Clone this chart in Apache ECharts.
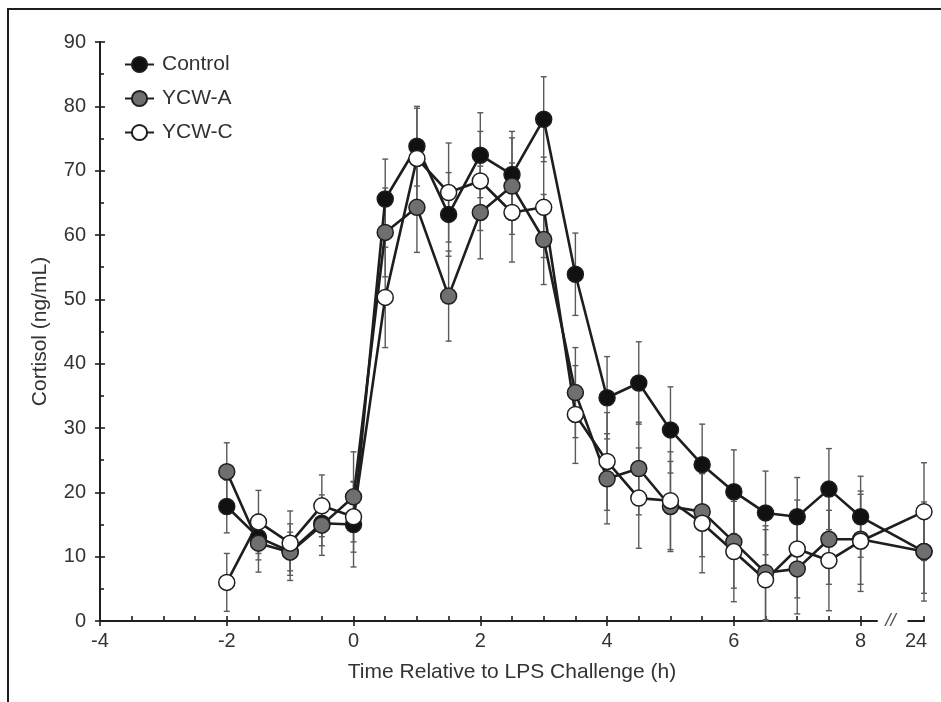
<!DOCTYPE html>
<html>
<head>
<meta charset="utf-8">
<script src="https://cdn.jsdelivr.net/npm/echarts@6/dist/echarts.min.js"></script>
<style>
  html, body { margin: 0; padding: 0; background: #fff; }
  #chart { width: 941px; height: 702px; }
</style>
</head>
<body>
<div id="chart"></div>
<script>
// hours relative to LPS; 24 h sits after an axis break
const times = [-2, -1.5, -1, -0.5, 0, 0.5, 1, 1.5, 2, 2.5, 3, 3.5, 4, 4.5, 5, 5.5, 6, 6.5, 7, 7.5, 8, 24]

const controlMean = [17.8, 13.0, 10.8, 15.2, 15.0, 65.6, 73.8, 63.2, 72.4, 69.4, 78.0, 53.9, 34.7, 37.0, 29.7, 24.3, 20.1, 16.8, 16.2, 20.5, 16.2, 10.8]
const controlSem = [4.1, 3.5, 3.0, 3.5, 6.6, 6.2, 6.2, 6.5, 6.6, 6.7, 6.6, 6.4, 6.4, 6.4, 6.7, 6.3, 6.5, 6.5, 6.1, 6.3, 6.3, 6.5]

const ycwAMean = [23.2, 12.1, 10.7, 14.9, 19.3, 60.4, 64.3, 50.5, 63.5, 67.6, 59.3, 35.5, 22.1, 23.7, 17.8, 17.0, 12.3, 7.5, 8.1, 12.7, 12.7, 10.8]
const ycwASem = [4.5, 4.5, 4.4, 4.7, 7.0, 6.9, 7.0, 7.0, 7.2, 7.5, 7.0, 7.0, 7.0, 7.2, 7.0, 7.0, 7.2, 7.3, 7.0, 7.0, 7.0, 7.7]

const ycwCMean = [6.0, 15.4, 12.1, 17.9, 16.2, 50.3, 71.9, 66.6, 68.4, 63.5, 64.3, 32.1, 24.8, 19.1, 18.7, 15.2, 10.8, 6.4, 11.2, 9.4, 12.4, 17.0]
const ycwCSem = [4.5, 4.9, 5.0, 4.8, 5.5, 7.8, 7.8, 7.7, 7.7, 7.7, 7.8, 7.6, 7.6, 7.8, 7.6, 7.7, 7.8, 7.8, 7.6, 7.8, 7.8, 7.6]

const majorTicks = [-4, -2, 0, 2, 4, 6, 8]
const minorTicks = [-4, -3.5, -3, -2.5, -2, -1.5, -1, -0.5, 0, 0.5, 1, 1.5, 2, 2.5, 3, 3.5, 4, 4.5, 5, 5.5, 6, 6.5, 7, 7.5, 8, 24]
const xLabels = [-4, -2, 0, 2, 4, 6, 8, 24]

// the broken axis puts 24 h one unit after 8 h
const xPos = (t) => (t > 8 ? 9 : t)

const ink = '#1e1e1e'
const textColor = '#333'
const font = 'Liberation Sans, Arial, sans-serif'

const lineSeries = (name, means, fill) => ({
    type: 'line',
    name: name,
    data: times.map((t, i) => [xPos(t), means[i]]),
    symbol: 'circle',
    symbolSize: 16,
    z: 3,
    lineStyle: { color: ink, width: 2.6 },
    itemStyle: { color: fill, borderColor: ink, borderWidth: 1.5 },
    emphasis: { disabled: true },
    animation: false
})

const errorSeries = (name, means, sems) => ({
    type: 'custom',
    name: name + ' SEM',
    data: times.map((t, i) => [xPos(t), Math.max(0, means[i] - sems[i]), means[i] + sems[i]]),
    z: 1,
    silent: true,
    animation: false,
    renderItem: function (params, api) {
        const hi = api.coord([api.value(0), api.value(2)])
        const lo = api.coord([api.value(0), api.value(1)])
        const cap = 3
        const style = { stroke: '#5a5a5a', lineWidth: 1.4 }
        return {
            type: 'group',
            children: [
                { type: 'line', shape: { x1: hi[0], y1: hi[1], x2: lo[0], y2: lo[1] }, style: style },
                { type: 'line', shape: { x1: hi[0] - cap, y1: hi[1], x2: hi[0] + cap, y2: hi[1] }, style: style },
                { type: 'line', shape: { x1: lo[0] - cap, y1: lo[1], x2: lo[0] + cap, y2: lo[1] }, style: style }
            ]
        }
    }
})

const chart = echarts.init(document.getElementById('chart'))

const xBase = {
    type: 'value',
    min: -4,
    max: 9,
    position: 'bottom',
    splitLine: { show: false }
}

const option = {
    backgroundColor: '#fff',
    animation: false,
    grid: { left: 100, right: 17, top: 42, bottom: 81, containLabel: false },
    legend: {
        orient: 'vertical',
        left: 119,
        top: 49,
        itemWidth: 29,
        itemHeight: 19,
        itemGap: 13,
        data: ['Control', 'YCW-A', 'YCW-C'],
        textStyle: { fontFamily: font, fontSize: 21, color: textColor, padding: [0, 0, 0, 3] }
    },
    xAxis: [
        Object.assign({}, xBase, {
            name: 'Time Relative to LPS Challenge (h)',
            nameLocation: 'middle',
            nameGap: 41,
            nameTextStyle: { fontFamily: font, fontSize: 21, color: textColor },
            axisLine: { show: true, onZero: false, lineStyle: { color: ink, width: 2 } },
            axisTick: { show: true, inside: true, length: 5, customValues: minorTicks.map(xPos), lineStyle: { color: ink, width: 1.6 } },
            axisLabel: {
                show: true,
                customValues: xLabels.map(xPos),
                margin: 10,
                fontFamily: font,
                fontSize: 20,
                color: textColor,
                formatter: (v) => (v > 8.5 ? '{late|24}' : String(v)),
                rich: { late: { fontFamily: font, fontSize: 20, color: textColor, padding: [0, 16, 0, 0] } }
            }
        }),
        Object.assign({}, xBase, {
            axisLine: { show: false, onZero: false },
            axisTick: { show: true, inside: false, length: 5, customValues: majorTicks, lineStyle: { color: ink, width: 1.6 } },
            axisLabel: { show: false }
        })
    ],
    yAxis: [
        {
            type: 'value',
            min: 0,
            max: 90,
            interval: 10,
            name: 'Cortisol (ng/mL)',
            nameLocation: 'middle',
            nameGap: 49,
            nameTextStyle: { fontFamily: font, fontSize: 21, color: textColor },
            splitLine: { show: false },
            axisLine: { show: true, onZero: false, lineStyle: { color: ink, width: 2 } },
            axisTick: { show: true, inside: true, length: 5, lineStyle: { color: ink, width: 1.6 } },
            minorTick: { show: true, splitNumber: 2, length: 4, lineStyle: { color: ink, width: 1.6 } },
            axisLabel: { margin: 14, fontFamily: font, fontSize: 20, color: textColor }
        },
        {
            type: 'value',
            min: 0,
            max: 90,
            interval: 10,
            position: 'left',
            splitLine: { show: false },
            axisLine: { show: false, onZero: false },
            axisTick: { show: true, inside: false, length: 5, lineStyle: { color: ink, width: 1.6 } },
            axisLabel: { show: false }
        }
    ],
    series: [
        errorSeries('Control', controlMean, controlSem),
        errorSeries('YCW-A', ycwAMean, ycwASem),
        errorSeries('YCW-C', ycwCMean, ycwCSem),
        lineSeries('Control', controlMean, '#111'),
        lineSeries('YCW-A', ycwAMean, '#6f6f6f'),
        lineSeries('YCW-C', ycwCMean, '#fff')
    ]
}

chart.setOption(option)

// axis break between 8 h and 24 h, plus the figure frame
const breakStart = chart.convertToPixel({ xAxisIndex: 0 }, 8.27)
const breakEnd = chart.convertToPixel({ xAxisIndex: 0 }, 8.74)
const axisY = chart.convertToPixel({ yAxisIndex: 0 }, 0)

chart.setOption({
    graphic: [
        { type: 'rect', shape: { x: breakStart, y: axisY - 3, width: breakEnd - breakStart, height: 6 }, style: { fill: '#fff' }, z: 100 },
        { type: 'text', x: (breakStart + breakEnd) / 2 - 2, y: axisY, style: { text: '//', font: 'italic 19px ' + font, fill: '#555', align: 'center', verticalAlign: 'middle' }, z: 101 },
        { type: 'line', shape: { x1: 7, y1: 9, x2: 941, y2: 9 }, style: { stroke: ink, lineWidth: 2 } },
        { type: 'line', shape: { x1: 8, y1: 9, x2: 8, y2: 702 }, style: { stroke: ink, lineWidth: 2 } }
    ]
})
</script>
</body>
</html>
